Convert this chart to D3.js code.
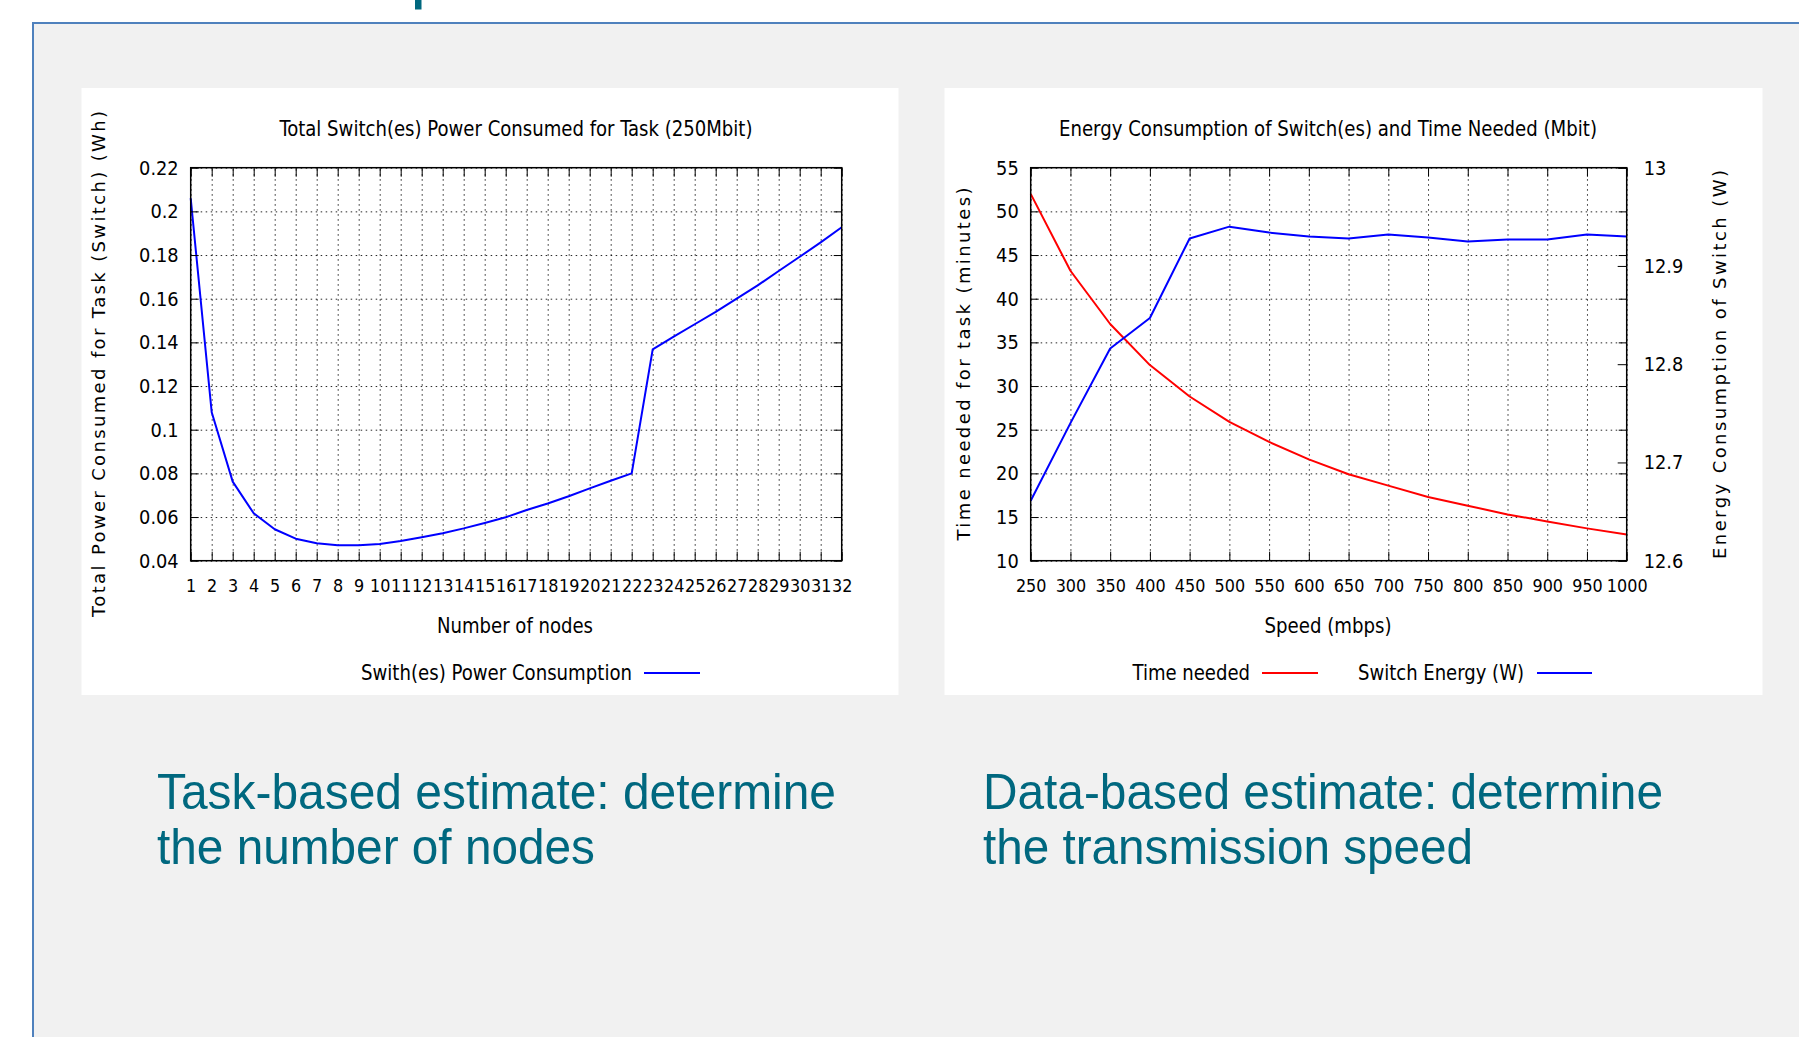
<!DOCTYPE html>
<html>
<head>
<meta charset="utf-8">
<script src="https://cdn.jsdelivr.net/npm/d3@7"></script>
<style>
  body { margin: 0; background: #fff; }
  .grid .domain, .ax .domain { display: none; }
  .grid line { stroke: #000; stroke-width: 1; stroke-dasharray: 1.5,3.5; stroke-opacity: 0.85; }
  .ax line { stroke: #000; stroke-width: 1; }
  .ax text { font-family: "DejaVu Sans Condensed", "DejaVu Sans", sans-serif; font-size: 19.8px; fill: #000; }
  .ax.xt text { font-size: 17.8px; }
</style>
</head>
<body>
<svg id="slide" width="1799" height="1037"></svg>
<script>
// left chart: power used for the task by number of nodes
var nodes = [1,2,3,4,5,6,7,8,9,10,11,12,13,14,15,16,17,18,19,20,21,22,23,24,25,26,27,28,29,30,31,32];
var nodePower = [0.206,0.108,0.0762,0.0617,0.0544,0.0501,0.0480,0.0471,0.0471,0.0477,0.0490,0.0507,
                 0.0526,0.0548,0.0573,0.0599,0.0632,0.0662,0.0695,0.0731,0.0766,0.0800,
                 0.1368,0.1426,0.1483,0.1540,0.1600,0.1661,0.1727,0.1792,0.1858,0.1927];
var leftYTicks = [0.04,0.06,0.08,0.1,0.12,0.14,0.16,0.18,0.2,0.22];

// right chart: time and switch energy by speed
var speeds = [250,300,350,400,450,500,550,600,650,700,750,800,850,900,950,1000];
var timeNeeded = [52.0,43.2,37.1,32.4,28.8,25.9,23.6,21.6,19.9,18.6,17.3,16.3,15.3,14.5,13.7,13.0];
var switchEnergy = [12.661,12.740,12.816,12.847,12.928,12.940,12.934,12.930,12.928,12.932,12.929,12.925,12.927,12.927,12.932,12.930];
var rightYTicks = [10,15,20,25,30,35,40,45,50,55];
var rightY2Ticks = [12.6,12.7,12.8,12.9,13];

var svg = d3.select('#slide');
var teal = '#00687f';

// slide background and frame
svg.append('rect').attr('x', 33).attr('y', 23).attr('width', 1766).attr('height', 1014).attr('fill', '#f1f1f1');
svg.append('path').attr('d', 'M33,1037V23H1799').attr('fill', 'none').attr('stroke', '#4f81bd').attr('stroke-width', 2);
// bit of the slide heading that pokes in from above
svg.append('rect').attr('x', 415).attr('y', 0).attr('width', 6.5).attr('height', 9.5).attr('fill', teal);

// chart panels
svg.append('rect').attr('x', 81.5).attr('y', 88).attr('width', 817).attr('height', 607).attr('fill', '#fff');
svg.append('rect').attr('x', 944.5).attr('y', 88).attr('width', 818).attr('height', 607).attr('fill', '#fff');

function label(x, y, s, len, anchor) {
  return svg.append('text').attr('x', x).attr('y', y).attr('text-anchor', anchor || 'middle')
    .style('font-family', '"DejaVu Sans Condensed", "DejaVu Sans", sans-serif').style('font-size', '21.5px')
    .attr('textLength', len).attr('lengthAdjust', 'spacingAndGlyphs').attr('fill', '#000').text(s);
}

function vlabel(x, y, s, len) {
  return svg.append('text').attr('transform', 'translate(' + x + ',' + y + ') rotate(-90)').attr('text-anchor', 'middle')
    .style('font-family', '"DejaVu Sans", sans-serif').style('font-size', '18px')
    .attr('textLength', len).attr('lengthAdjust', 'spacing').attr('fill', '#000').text(s);
}

function grid(x, y, xTicks, yTicks) {
  var x0 = x.range()[0], x1 = x.range()[1], yb = y.range()[0], yt = y.range()[1];
  svg.append('g').attr('class', 'grid').attr('transform', 'translate(0,' + yb + ')')
    .call(d3.axisBottom(x).tickValues(xTicks).tickSize(-(yb - yt)).tickFormat(''));
  svg.append('g').attr('class', 'grid').attr('transform', 'translate(' + x0 + ',0)')
    .call(d3.axisLeft(y).tickValues(yTicks).tickSize(-(x1 - x0)).tickFormat(''));
}

function frame(x, y, xTicks, yTicks) {
  var x0 = x.range()[0], x1 = x.range()[1], yb = y.range()[0], yt = y.range()[1];
  svg.append('g').attr('class', 'ax xt').attr('transform', 'translate(0,' + yb + ')')
    .call(d3.axisBottom(x).tickValues(xTicks).tickSizeInner(-9).tickSizeOuter(0).tickPadding(19).tickFormat(String));
  svg.append('g').attr('class', 'ax').attr('transform', 'translate(0,' + yt + ')')
    .call(d3.axisTop(x).tickValues(xTicks).tickSizeInner(-9).tickSizeOuter(0).tickFormat(''));
  svg.append('g').attr('class', 'ax').attr('transform', 'translate(' + x0 + ',0)')
    .call(d3.axisLeft(y).tickValues(yTicks).tickSizeInner(-8).tickSizeOuter(0).tickPadding(12).tickFormat(String));
  // mirrored ticks on the right edge
  svg.append('g').attr('class', 'ax').attr('transform', 'translate(' + x1 + ',0)')
    .call(d3.axisRight(y).tickValues(yTicks).tickSizeInner(-8).tickSizeOuter(0).tickFormat(''));
  svg.append('rect').attr('x', x0).attr('y', yt).attr('width', x1 - x0).attr('height', yb - yt)
    .attr('fill', 'none').attr('stroke', '#000').attr('stroke-width', 1.5);
}

function series(x, y, xs, ys, color) {
  var line = d3.line().x(function(d, i) { return x(xs[i]); }).y(function(d) { return y(d); });
  svg.append('path').datum(ys).attr('d', line).attr('fill', 'none').attr('stroke', color)
    .attr('stroke-width', 2).attr('stroke-linejoin', 'round');
}

// ---- left chart
var xL = d3.scaleLinear().domain([1, 32]).range([190.7, 841.7]);
var yL = d3.scaleLinear().domain([0.04, 0.22]).range([560.7, 167.7]);
grid(xL, yL, nodes, leftYTicks);
series(xL, yL, nodes, nodePower, '#0000ff');
frame(xL, yL, nodes, leftYTicks);

label(516, 136, 'Total Switch(es) Power Consumed for Task (250Mbit)', 473);
label(515, 633, 'Number of nodes', 156);
label(632, 680, 'Swith(es) Power Consumption', 271, 'end');
svg.append('line').attr('x1', 644).attr('x2', 700).attr('y1', 673).attr('y2', 673).attr('stroke', '#0000ff').attr('stroke-width', 2);
vlabel(105, 364, 'Total Power Consumed for Task (Switch) (Wh)', 506);

// ---- right chart
var xR = d3.scaleLinear().domain([250, 1000]).range([1030.7, 1626.7]);
var yR = d3.scaleLinear().domain([10, 55]).range([560.7, 167.7]);
var yR2 = d3.scaleLinear().domain([12.6, 13]).range([560.7, 167.7]);
grid(xR, yR, speeds, rightYTicks);
series(xR, yR, speeds, timeNeeded, '#ff0000');
series(xR, yR2, speeds, switchEnergy, '#0000ff');
frame(xR, yR, speeds, rightYTicks);
svg.append('g').attr('class', 'ax').attr('transform', 'translate(1626.7,0)')
  .call(d3.axisRight(yR2).tickValues(rightY2Ticks).tickSizeInner(-9).tickSizeOuter(0).tickPadding(17).tickFormat(String));

label(1328, 136, 'Energy Consumption of Switch(es) and Time Needed (Mbit)', 538);
label(1328, 633, 'Speed (mbps)', 127);
label(1250, 680, 'Time needed', 117.5, 'end');
svg.append('line').attr('x1', 1262).attr('x2', 1318).attr('y1', 673).attr('y2', 673).attr('stroke', '#ff0000').attr('stroke-width', 2);
label(1358, 680, 'Switch Energy (W)', 166, 'start');
svg.append('line').attr('x1', 1537).attr('x2', 1592).attr('y1', 673).attr('y2', 673).attr('stroke', '#0000ff').attr('stroke-width', 2);
vlabel(970, 364, 'Time needed for task (minutes)', 353);
vlabel(1725.5, 364.5, 'Energy Consumption of Switch (W)', 389);

// ---- slide captions
function caption(x, y, s, len) {
  svg.append('text').attr('x', x).attr('y', y).style('font-family', '"Liberation Sans", Arial, sans-serif')
    .style('font-size', '50px').attr('fill', teal).attr('textLength', len).attr('lengthAdjust', 'spacingAndGlyphs').text(s);
}
caption(157, 809, 'Task-based estimate: determine', 679);
caption(157, 864, 'the number of nodes', 438);
caption(983, 809, 'Data-based estimate: determine', 680);
caption(983, 864, 'the transmission speed', 490);
</script>
</body>
</html>
